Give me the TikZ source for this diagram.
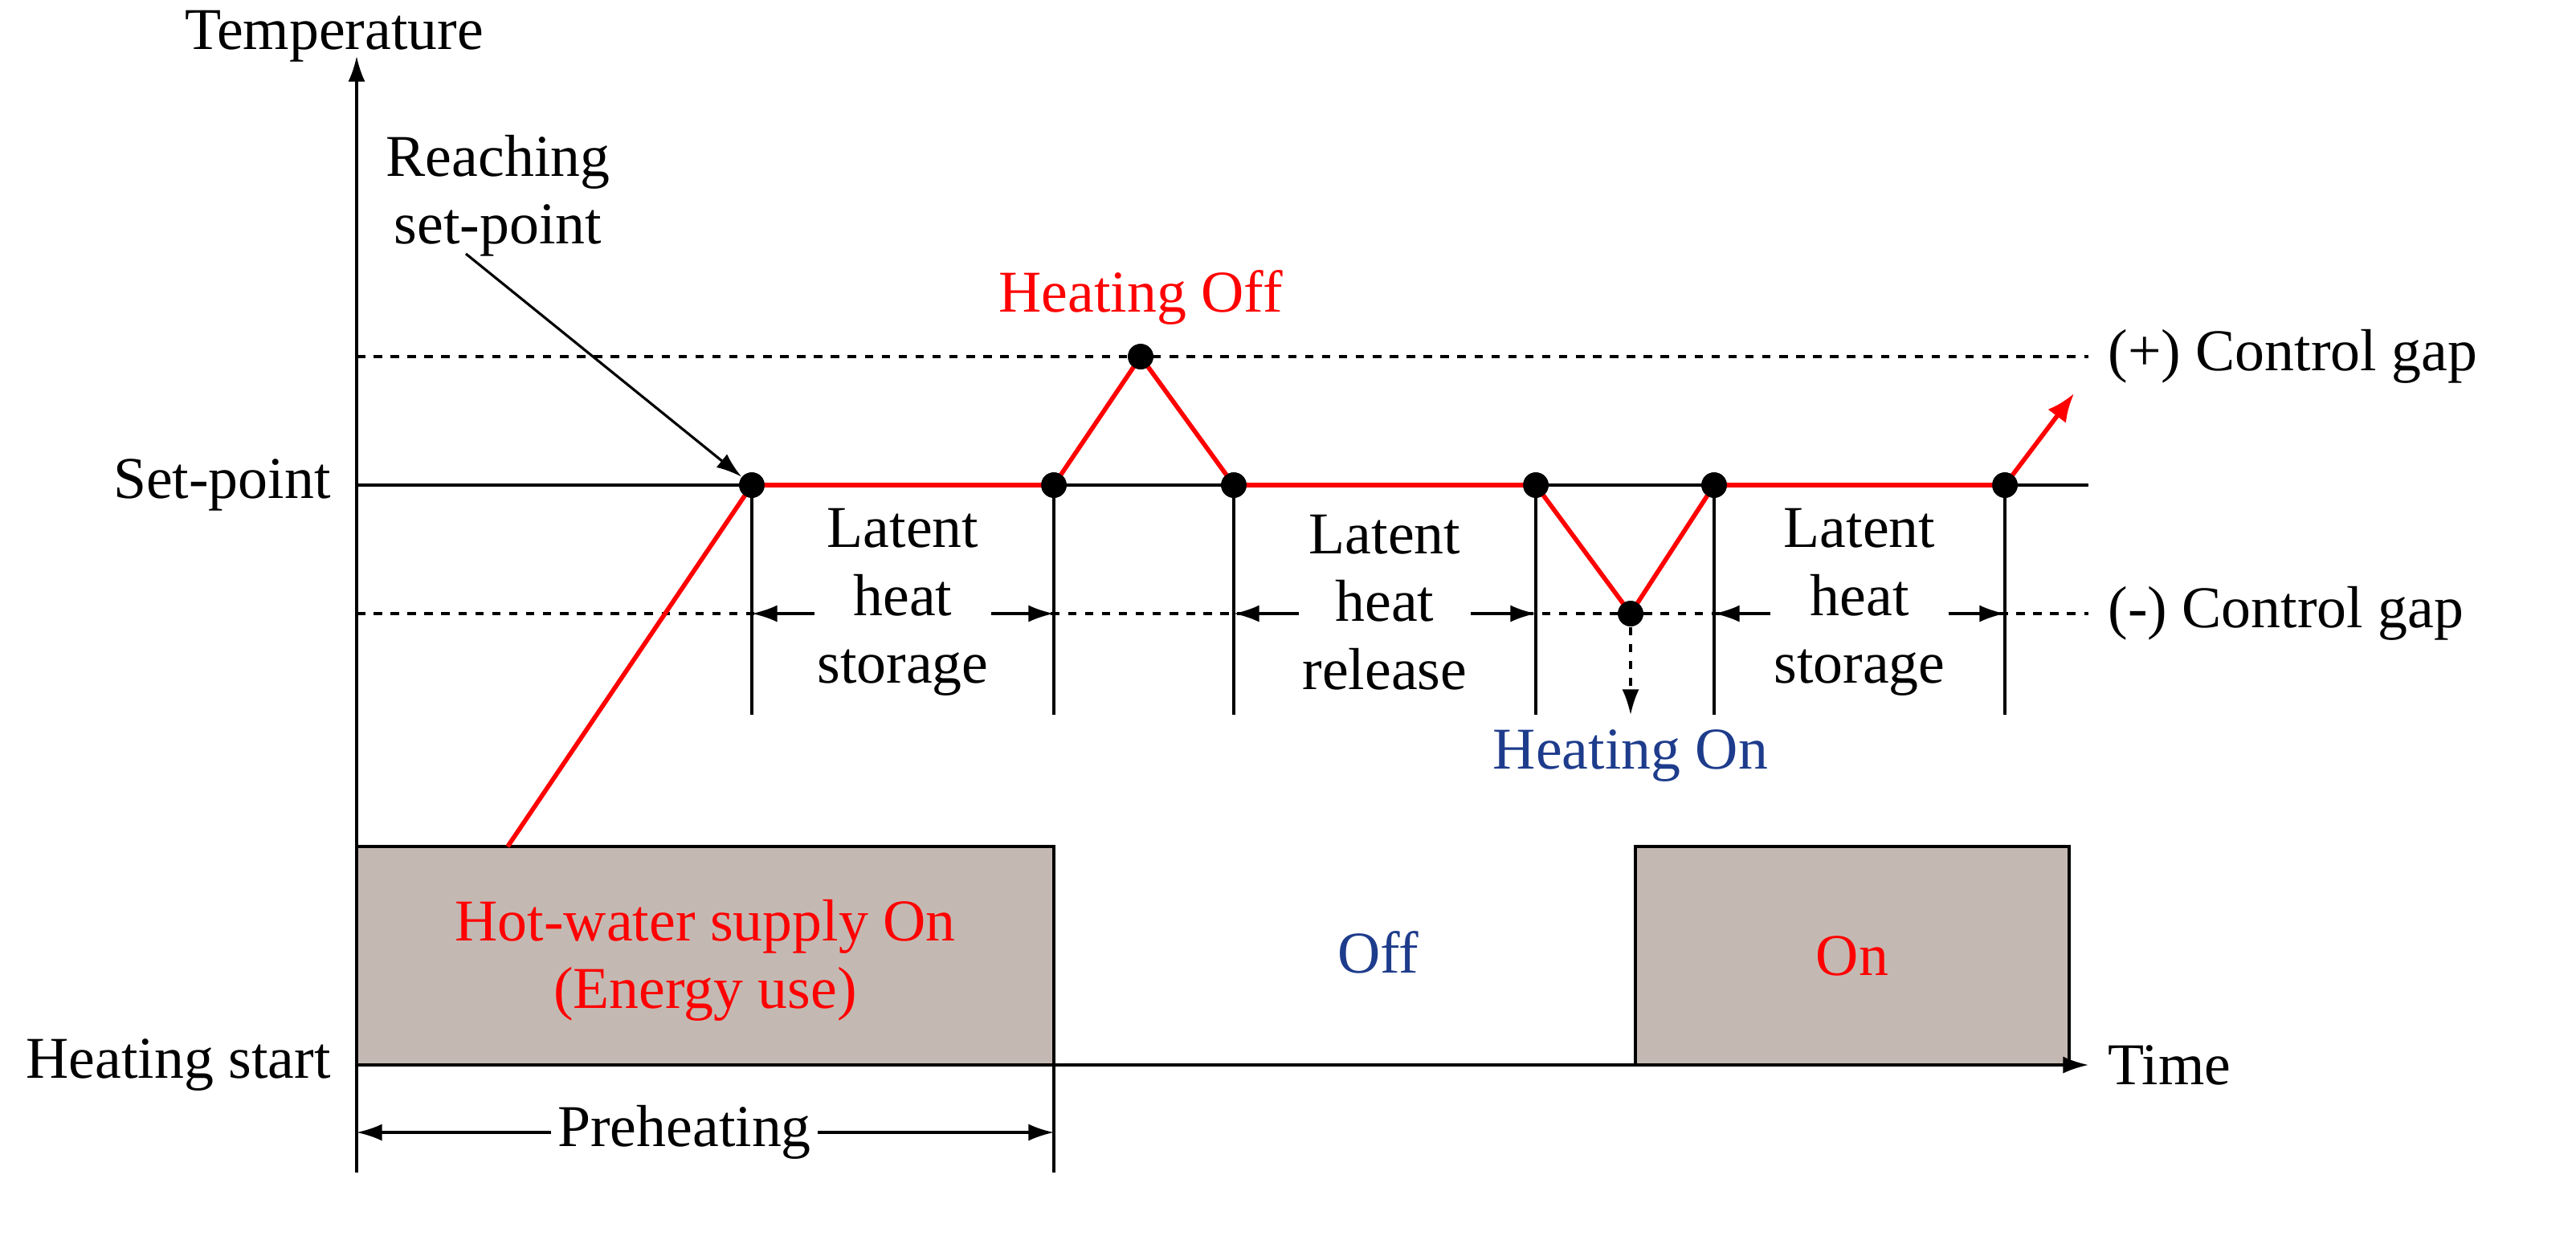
\documentclass[tikz,border=0pt]{standalone}
\usepackage{fontspec}
\setmainfont{Liberation Serif}
\usetikzlibrary{arrows.meta}
\begin{document}
\begin{tikzpicture}[x=0.02cm,y=-0.02cm,font=\fontsize{21}{24}\selectfont,
  ln/.style={line width=0.9pt},
  rl/.style={red,line width=1.6pt},
  dot/.style={circle,fill=black,inner sep=0pt,minimum size=9pt},
  dsh/.style={dashed,line width=0.9pt},
  ar/.style={-{Latex[length=9pt,width=6pt]},line width=0.9pt},
  box/.style={fill={rgb,255:red,196;green,185;blue,178},draw=black,line width=0.9pt}]
\useasboundingbox (0,0) rectangle (1603.5,769);
% boxes
\draw[box] (222,527) rectangle (656,663);
\draw[box] (1018,527) rectangle (1288,663);
% axes
\coordinate (O) at (222,663);
\coordinate (Ytop) at (222,35);
\coordinate (Xend) at (1300,663);
\draw[ar] (O) -- (Ytop);
\draw[ar] (O) -- (Xend);
\node[anchor=south] (tl) at (208,45) {Temperature};
\node[anchor=west] (xl) at (1306,663) {Time};
\node[anchor=east] (sp) at (212,302) {Set-point};
\node[anchor=east] (hs) at (212,663) {Heating start};
% set-point line and gaps
\draw[ln] (222,302) -- (1300,302);
\draw[dsh] (222,222) -- (1300,222);
\draw[dsh] (222,382) -- (1300,382);
\node[anchor=west] (pg) at (1306,222) {(+) Control gap};
\node[anchor=west] (mg) at (1306,382) {(-) Control gap};
% verticals
\foreach \x in {468,656,768,956,1067,1248}{\draw[ln] (\x,302) -- (\x,445);}
% latent labels
\foreach \a/\b/\t in {468/656/storage,768/956/release,1067/1248/storage}{
  \node[align=center,fill=white,inner sep=1pt] (lab\a) at ({(\a+\b)/2},375) {Latent\\heat\\\t};
  \draw[ar] (lab\a.west|-0,382) -- (\a,382);
  \draw[ar] (lab\a.east|-0,382) -- (\b,382);
}
% red curve
\coordinate (s0) at (316,527);
\node[dot] (p1) at (468,302) {};
\node[dot] (p2) at (656,302) {};
\node[dot] (p3) at (710,222) {};
\node[dot] (p4) at (768,302) {};
\node[dot] (p5) at (956,302) {};
\node[dot] (p6) at (1015,382) {};
\node[dot] (p7) at (1067,302) {};
\node[dot] (p8) at (1248,302) {};
\coordinate (pe) at (1291,245);
\draw[rl,line join=round] (s0) -- (p1.center) -- (p2.center) -- (p3.center) -- (p4.center) -- (p5.center) -- (p6.center) -- (p7.center) -- (p8.center);
\draw[rl,-{Latex[length=10pt,width=8pt]}] (p8.center) -- (pe);
\node[dot] at (p1) {};\node[dot] at (p2) {};\node[dot] at (p3) {};\node[dot] at (p4) {};
\node[dot] at (p5) {};\node[dot] at (p6) {};\node[dot] at (p7) {};\node[dot] at (p8) {};
% annotations
\node[align=center] (rs) at (310,122) {Reaching\\set-point};
\draw[ar] (290,158) -- (p1);
\node[red] (hoff) at (710,185) {Heating Off};
\coordinate (hd) at (1015,445);
\draw[dsh,-{Latex[length=9pt,width=6pt]}] (p6) -- (hd);
\node[anchor=north,text={rgb,255:red,30;green,60;blue,140}] (hon) at (1015,448) {Heating On};
% box texts
\node[red,align=center] (hw) at (439,598) {Hot-water supply On\\(Energy use)};
\node[text={rgb,255:red,30;green,60;blue,140}] (off) at (858,593) {Off};
\node[red] (on) at (1153,595) {On};
% preheating
\draw[ln] (222,663) -- (222,730);
\draw[ln] (656,663) -- (656,730);
\node[fill=white,inner sep=2pt] (ph) at (426,705) {Preheating};
\draw[ar] (ph.west) -- (222,705);
\draw[ar] (ph.east) -- (656,705);
\end{tikzpicture}
\end{document}
